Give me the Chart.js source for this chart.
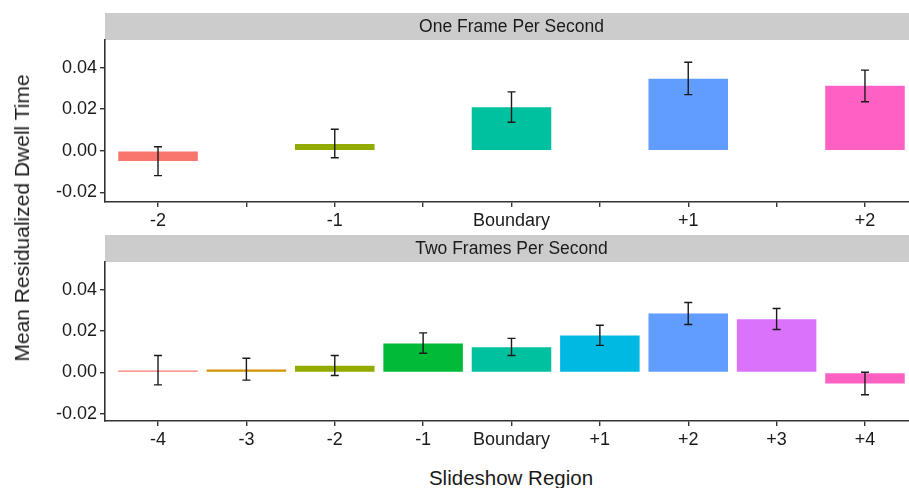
<!DOCTYPE html>
<html>
<head>
<meta charset="utf-8">
<script src="https://cdn.jsdelivr.net/npm/chart.js@4/dist/chart.umd.min.js"></script>
<style>
  html, body { margin: 0; padding: 0; background: #fff; overflow: hidden; width: 909px; height: 488px; }
  #wrap { position: relative; width: 918px; height: 488px; font-family: 'Liberation Sans', Arial, sans-serif; color: #1a1a1a; }
  .panel { position: absolute; left: 0; }
  #yTitle { position: absolute; left: 22px; top: 218px; transform: translate(-50%, -50%) rotate(-90deg); white-space: nowrap; font-size: 21px; }
  #xTitle { position: absolute; left: 511px; top: 478px; transform: translate(-50%, -50%); white-space: nowrap; font-size: 20.5px; }
</style>
</head>
<body>
<div id="wrap">
  <canvas id="chartOne" class="panel" style="top:0px" width="918" height="230"></canvas>
  <canvas id="chartTwo" class="panel" style="top:222px" width="918" height="228"></canvas>
  <div id="yTitle">Mean Residualized Dwell Time</div>
  <div id="xTitle">Slideshow Region</div>
</div>
<script>
// --- One Frame Per Second ---
const oneLabels = ["-2", "-1", "Boundary", "+1", "+2"];
const oneValues = [-0.0050, 0.0032, 0.0209, 0.0347, 0.0313];
const oneLower  = [-0.0120, -0.0034, 0.0137, 0.0270, 0.0236];
const oneUpper  = [0.0019, 0.0103, 0.0283, 0.0426, 0.0388];
const oneColors = ["#F8766D", "#93AA00", "#00C19F", "#619CFF", "#FF61C3"];

// --- Two Frames Per Second ---
const twoLabels = ["-4", "-3", "-2", "-1", "Boundary", "+1", "+2", "+3", "+4"];
const twoValues = [0.0010, 0.0015, 0.0032, 0.0140, 0.0122, 0.0179, 0.0286, 0.0258, -0.0053];
const twoLower  = [-0.0060, -0.0037, -0.0015, 0.0093, 0.0082, 0.0131, 0.0232, 0.0208, -0.0108];
const twoUpper  = [0.0082, 0.0069, 0.0082, 0.0192, 0.0165, 0.0229, 0.0339, 0.0310, 0.0001];
const twoColors = ["#F8766D", "#D39200", "#93AA00", "#00BA38", "#00C19F", "#00B9E3", "#619CFF", "#DB72FB", "#FF61C3"];

const yTicks = [-0.02, 0, 0.02, 0.04];

Chart.defaults.font.family = "'Liberation Sans', Arial, sans-serif";
Chart.defaults.color = "#1a1a1a";

// gray facet strip above the plot area
const stripPlugin = {
    id: "strip",
    beforeDraw(chart, args, opts) {
        const ctx = chart.ctx, a = chart.chartArea;
        ctx.save();
        ctx.fillStyle = "#cccccc";
        ctx.fillRect(a.left, a.top - 27, chart.width - a.left, 27);
        ctx.fillStyle = "#1a1a1a";
        ctx.font = "17.5px 'Liberation Sans', Arial, sans-serif";
        ctx.textAlign = "center";
        ctx.textBaseline = "middle";
        ctx.fillText(opts.text, (a.left + a.right) / 2, a.top - 13);
        ctx.restore();
    }
};

// error bars drawn from the lower/upper arrays
const errorPlugin = {
    id: "errbars",
    afterDatasetsDraw(chart, args, opts) {
        const ctx = chart.ctx, ys = chart.scales.y;
        const meta = chart.getDatasetMeta(0);
        ctx.save();
        ctx.strokeStyle = "#1a1a1a";
        ctx.lineWidth = 1.4;
        meta.data.forEach((bar, i) => {
            const top = ys.getPixelForValue(opts.upper[i]);
            const bot = ys.getPixelForValue(opts.lower[i]);
            ctx.beginPath();
            ctx.moveTo(bar.x, top); ctx.lineTo(bar.x, bot);
            ctx.moveTo(bar.x - 4, top); ctx.lineTo(bar.x + 4, top);
            ctx.moveTo(bar.x - 4, bot); ctx.lineTo(bar.x + 4, bot);
            ctx.stroke();
        });
        ctx.restore();
    }
};

function makePanel(id, title, labels, values, lower, upper, colors, xmin, xmax, tickStep, ymin, ymax, xHeight) {
    const tickPos = [];
    for (let v = 0; v <= labels.length - 1 + 1e-9; v += tickStep) tickPos.push(v);
    const axisGrid = { drawOnChartArea: false, drawTicks: true, tickLength: 5, color: "#333", lineWidth: 1.4, offset: false };
    const axisBorder = { display: true, color: "#333", width: 1.6 };
    return new Chart(document.getElementById(id), {
        type: "bar",
        data: {
            datasets: [{
                data: values.map((v, i) => ({ x: i, y: v })),
                backgroundColor: colors,
                borderWidth: 0,
                barPercentage: 0.9,
                categoryPercentage: 1
            }]
        },
        options: {
            responsive: false,
            animation: false,
            layout: { padding: { top: 40, left: 0, right: 0, bottom: 0 } },
            plugins: {
                legend: { display: false },
                tooltip: { enabled: false },
                strip: { text: title },
                errbars: { lower: lower, upper: upper }
            },
            scales: {
                x: {
                    type: "linear",
                    offset: false,
                    min: xmin, max: xmax,
                    grid: axisGrid,
                    border: axisBorder,
                    afterBuildTicks: s => { s.ticks = tickPos.map(v => ({ value: v })); },
                    afterFit: s => { s.height = xHeight; },
                    ticks: {
                        autoSkip: false, maxRotation: 0, padding: 3,
                        font: { size: 18 }, color: "#1a1a1a",
                        callback: v => Number.isInteger(v) ? labels[v] : ""
                    }
                },
                y: {
                    min: ymin, max: ymax,
                    grid: axisGrid,
                    border: axisBorder,
                    afterBuildTicks: s => { s.ticks = yTicks.map(v => ({ value: v })); },
                    afterFit: s => { s.width = 105; },
                    ticks: {
                        padding: 3,
                        font: { size: 18 }, color: "#1a1a1a",
                        callback: v => v.toFixed(2)
                    }
                }
            }
        },
        plugins: [stripPlugin, errorPlugin]
    });
}

makePanel("chartOne", "One Frame Per Second", oneLabels, oneValues, oneLower, oneUpper, oneColors,
    -0.3, 4.3, 0.5, -0.0247, 0.0533, 28);
makePanel("chartTwo", "Two Frames Per Second", twoLabels, twoValues, twoLower, twoUpper, twoColors,
    -0.6, 8.6, 1, -0.0235, 0.0535, 29);
</script>
</body>
</html>
